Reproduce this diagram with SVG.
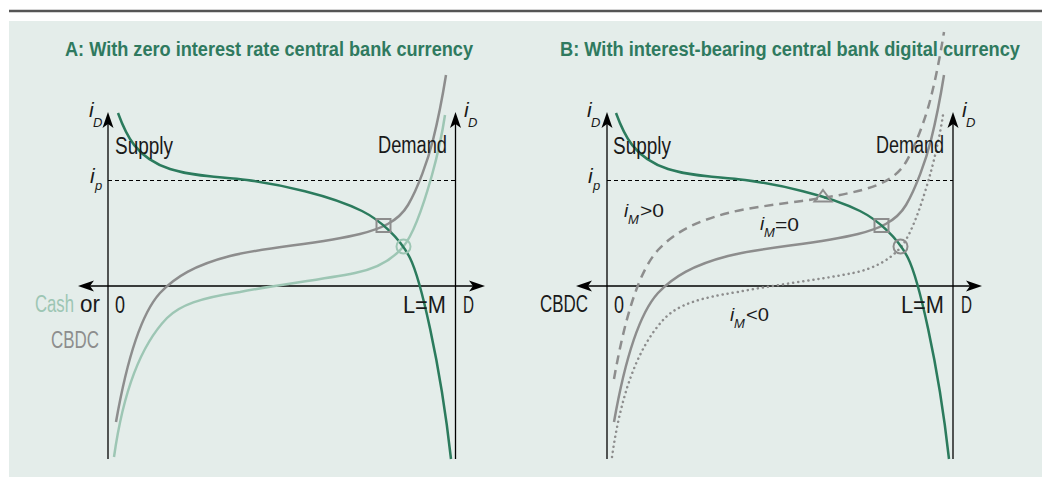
<svg xmlns="http://www.w3.org/2000/svg" xmlns:xlink="http://www.w3.org/1999/xlink" width="1042" height="477" viewBox="0 0 1042 477">
<style>
.ttl{font-family:"Liberation Sans Narrow","Liberation Sans",Arial,sans-serif;font-weight:bold;font-size:20px;fill:#2f7a5f}
.lbl{font-family:"Liberation Sans Narrow","Liberation Sans",Arial,sans-serif;font-size:23px;fill:#1a1a1a}
.it{font-family:"Liberation Sans Narrow","Liberation Sans",Arial,sans-serif;font-style:italic;font-size:21px;fill:#1a1a1a}
.sub{font-family:"Liberation Sans Narrow","Liberation Sans",Arial,sans-serif;font-style:italic;font-size:13px;fill:#1a1a1a}
.itm{font-family:"Liberation Sans Narrow","Liberation Sans",Arial,sans-serif;font-style:italic;font-size:19px;fill:#1a1a1a}
.rel{font-family:"Liberation Sans Narrow","Liberation Sans",Arial,sans-serif;font-size:19px;fill:#1a1a1a}
.axis{stroke:#000;stroke-width:1.3;fill:none}
.ref{stroke:#000;stroke-width:1;stroke-dasharray:4 3;fill:none}
.sup{stroke:#2b7b5d;stroke-width:2.5;fill:none}
.dem{stroke:#8d8d8d;stroke-width:2.5;fill:none}
.cash{stroke:#9dc6b4;stroke-width:2.5;fill:none}
.dash{stroke:#8d8d8d;stroke-width:2.5;fill:none;stroke-dasharray:9 6}
.dot{stroke:#8d8d8d;stroke-width:2.5;fill:none;stroke-dasharray:0.1 5;stroke-linecap:round}
.mk{fill:none;stroke-width:2}
</style>
<defs>
<marker id="arr" viewBox="0 0 16 12" refX="10" refY="6" markerWidth="16" markerHeight="12" markerUnits="userSpaceOnUse" orient="auto-start-reverse">
<path d="M0,0.5 L16,6 L0,11.5 L4,6 z" fill="#000"/>
</marker>
<path id="pSup" d="M118,113 C126,135 136,158 170,169 C195,177 220,176.5 247,180 C280,184.5 330,195 362,211 C380,220 400,238 410,258 C420,278 440,360 451,459"/>
<path id="pDem" d="M116,422 C126,365 140,315 160,293 C175,277 195,265 230,256 C265,247 320,244 360,234 C380,229 398,222 408,205 C418,188 428,160 433,140 C438,120 442,100 446,75"/>
<path id="pCash" d="M114,457 C122,400 138,348 167,318 C180,305 200,298 240,292 C275,285 320,280 355,273 C375,269 392,260 403,247 C414,234 425,200 432,175 C437,157 442,135 445,115"/>
</defs>
<rect x="0" y="0" width="1042" height="477" fill="#ffffff"/>
<line x1="9" y1="11" x2="1042" y2="11" stroke="#555" stroke-width="2.5"/>
<rect x="9" y="21" width="1033" height="456" fill="#e4edea"/>

<g id="panelA">
<text class="ttl" x="65" y="56" textLength="408" lengthAdjust="spacingAndGlyphs">A: With zero interest rate central bank currency</text>
<g id="axesA">
<line class="ref" x1="108" y1="180.5" x2="455.5" y2="180.5"/>
<line class="axis" x1="108" y1="459" x2="108" y2="118" marker-end="url(#arr)"/>
<line class="axis" x1="455.5" y1="459" x2="455.5" y2="118" marker-end="url(#arr)"/>
<line class="axis" x1="84" y1="286" x2="479" y2="286" marker-start="url(#arr)" marker-end="url(#arr)"/>
</g>
<g id="curvesA">
<use xlink:href="#pCash" class="cash"/>
<use xlink:href="#pDem" class="dem"/>
<use xlink:href="#pSup" class="sup"/>
</g>
<g id="markersA">
<rect class="mk" x="376.5" y="219" width="14" height="13" stroke="#8d8d8d"/>
<circle class="mk" cx="403.5" cy="246.5" r="7" stroke="#9dc6b4"/>
</g>
<g id="labelsA">
<text class="it" x="89" y="117">i</text><text class="sub" x="93" y="127">D</text>
<text class="it" x="464" y="117">i</text><text class="sub" x="468" y="127">D</text>
<text class="it" x="90" y="183">i</text><text class="sub" x="95" y="190">p</text>
<text class="lbl" x="115" y="154" textLength="58" lengthAdjust="spacingAndGlyphs">Supply</text>
<text class="lbl" x="378" y="153" textLength="69" lengthAdjust="spacingAndGlyphs">Demand</text>
<text class="lbl" x="403" y="313" textLength="43" lengthAdjust="spacingAndGlyphs">L=M</text>
<text class="lbl" x="463" y="313" textLength="11" lengthAdjust="spacingAndGlyphs">D</text>
<text class="lbl" x="115" y="313" textLength="10" lengthAdjust="spacingAndGlyphs">0</text>
<text class="lbl" x="35" y="312" textLength="39" lengthAdjust="spacingAndGlyphs" style="fill:#9dc6b4">Cash</text>
<text class="lbl" x="80" y="312" textLength="20" lengthAdjust="spacingAndGlyphs">or</text>
<text class="lbl" x="51" y="348" textLength="48" lengthAdjust="spacingAndGlyphs" style="fill:#8d8d8d">CBDC</text>
</g>
</g>

<g id="panelB">
<text class="ttl" x="560" y="56" textLength="460" lengthAdjust="spacingAndGlyphs">B: With interest-bearing central bank digital currency</text>
<g id="axesB">
<line class="ref" x1="607" y1="180.5" x2="953" y2="180.5"/>
<line class="axis" x1="607" y1="459" x2="607" y2="118" marker-end="url(#arr)"/>
<line class="axis" x1="953" y1="459" x2="953" y2="118" marker-end="url(#arr)"/>
<line class="axis" x1="582" y1="286" x2="976" y2="286" marker-start="url(#arr)" marker-end="url(#arr)"/>
</g>
<g id="curvesB">
<use xlink:href="#pCash" class="dot" transform="translate(498,0)"/>
<use xlink:href="#pDem" class="dash" transform="translate(498,-43)"/>
<use xlink:href="#pDem" class="dem" transform="translate(498,0)"/>
<use xlink:href="#pSup" class="sup" transform="translate(498,0)"/>
</g>
<g id="markersB">
<rect class="mk" x="874.5" y="219" width="14" height="13" stroke="#8d8d8d"/>
<circle class="mk" cx="900.5" cy="246.5" r="7" stroke="#8d8d8d"/>
<polygon class="mk" points="823,190 831.5,201.5 814.5,201.5" stroke="#8d8d8d"/>
</g>
<g id="labelsB">
<text class="it" x="587" y="117">i</text><text class="sub" x="591" y="127">D</text>
<text class="it" x="962" y="117">i</text><text class="sub" x="966" y="127">D</text>
<text class="it" x="588" y="183">i</text><text class="sub" x="593" y="190">p</text>
<text class="lbl" x="613" y="154" textLength="58" lengthAdjust="spacingAndGlyphs">Supply</text>
<text class="lbl" x="876" y="153" textLength="68" lengthAdjust="spacingAndGlyphs">Demand</text>
<text class="lbl" x="901" y="313" textLength="43" lengthAdjust="spacingAndGlyphs">L=M</text>
<text class="lbl" x="961" y="313" textLength="11" lengthAdjust="spacingAndGlyphs">D</text>
<text class="lbl" x="614" y="313" textLength="10" lengthAdjust="spacingAndGlyphs">0</text>
<text class="lbl" x="540" y="312" textLength="48" lengthAdjust="spacingAndGlyphs">CBDC</text>
<text class="itm" x="624" y="217">i</text><text class="sub" x="628" y="224">M</text>
<text class="rel" x="640" y="217" textLength="24" lengthAdjust="spacingAndGlyphs">&gt;0</text>
<text class="itm" x="760" y="230">i</text><text class="sub" x="764" y="237">M</text>
<text class="rel" x="775" y="230.5" textLength="24" lengthAdjust="spacingAndGlyphs">=0</text>
<text class="itm" x="730" y="320.5">i</text><text class="sub" x="734" y="328">M</text>
<text class="rel" x="746" y="320.5" textLength="23" lengthAdjust="spacingAndGlyphs">&lt;0</text>
</g>
</g>
</svg>
